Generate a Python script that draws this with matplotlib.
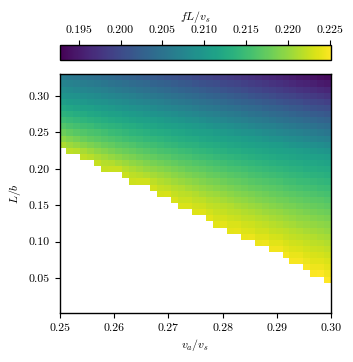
import numpy as np
import matplotlib
matplotlib.use("Agg")
import matplotlib.pyplot as plt
from matplotlib.ticker import FormatStrFormatter

plt.rcParams.update({
    "font.family": "serif",
    "font.serif": ["cmr10"],
    "mathtext.fontset": "cm",
    "axes.formatter.use_mathtext": True,
    "font.size": 8.5,
})

# grid extents (va/vs across, L/b up)
va_vs_range = [0.25, 0.30]
Lb_range = [0.0015, 0.3298]
n_cols = 39
n_rows = 39

# fL/vs = 0.19 + code * 1e-4 ; each list is one va/vs column, from its lowest
# valid L/b cell upward to the top row
fL_offset = 0.19
fL_scale = 1e-4
fL_cols_e4 = [
    [312,295,279,264,250,236,223,209,197,185,174,162],
    [319,305,289,273,259,246,233,219,206,194,182,171,159],
    [317,299,284,268,255,242,229,216,203,191,179,167,156],
    [321,309,293,278,264,251,239,226,213,200,188,176,164,152],
    [317,303,288,273,260,248,235,222,210,197,185,173,161,149],
    [323,311,297,283,269,257,244,232,219,207,194,182,170,158,146],
    [324,316,306,292,278,265,253,240,228,216,204,191,179,167,154,142],
    [325,314,300,287,274,261,249,237,225,213,201,188,176,164,151,139],
    [325,308,295,282,269,258,246,234,222,210,198,185,173,160,148,136],
    [326,316,303,291,278,266,254,242,231,219,207,195,182,170,157,145,132],
    [327,319,311,298,286,274,262,250,239,228,216,204,192,179,167,154,141,129],
    [328,317,306,294,282,270,258,247,236,224,213,201,189,176,163,151,138,125],
    [329,313,301,289,278,266,255,244,233,221,210,198,186,173,160,147,135,122],
    [330,319,308,297,285,274,263,252,241,230,219,208,195,182,170,157,144,131,119],
    [331,323,315,304,293,281,270,259,248,238,227,216,205,192,179,167,154,141,128,115],
    [332,321,311,300,289,278,267,256,245,235,224,213,202,189,176,163,151,138,125,112],
    [332,324,316,306,295,285,274,263,253,242,232,221,211,199,186,173,160,147,134,121,109],
    [333,326,320,313,302,292,281,270,260,250,239,229,219,208,196,183,170,157,144,131,118,105],
    [334,326,318,308,298,288,277,267,257,247,236,226,216,206,193,180,167,154,141,128,115,102],
    [335,328,321,314,304,294,284,274,264,254,244,234,224,213,203,190,177,164,151,138,125,112,99],
    [336,327,319,310,300,290,281,271,261,251,241,231,221,211,200,186,173,160,147,134,121,108,95],
    [337,330,322,315,306,297,287,277,267,258,248,238,228,218,209,196,183,170,157,144,131,118,105,92],
    [338,331,325,319,312,303,293,284,274,264,255,245,235,226,216,206,193,180,167,154,141,128,115,102,88],
    [339,331,324,317,308,299,290,280,271,261,252,242,233,223,214,203,190,177,164,151,138,125,111,98,85],
    [339,333,327,320,314,305,296,286,277,268,258,249,240,230,221,211,200,187,174,161,148,134,121,108,95,82],
    [340,333,325,318,310,301,292,283,274,265,256,246,237,228,218,209,197,184,171,158,144,131,118,105,92,78],
    [341,335,328,321,315,307,298,289,280,271,262,253,244,234,225,216,207,194,181,167,154,141,128,115,101,88,75],
    [342,334,327,319,312,303,294,286,277,268,259,250,241,232,223,214,204,191,178,164,151,138,125,111,98,85,72],
    [343,336,329,323,316,308,300,291,283,274,265,256,247,238,229,220,211,201,187,174,161,148,135,121,108,95,82,68],
    [344,336,329,321,313,305,297,288,280,271,263,254,245,236,227,218,209,198,184,171,158,145,131,118,105,91,78,65],
    [345,338,331,324,317,310,302,293,285,277,269,260,251,242,233,225,216,207,194,181,168,155,141,128,115,101,88,75,62],
    [345,338,330,322,315,307,299,290,282,274,266,257,248,240,231,222,214,205,191,178,165,151,138,125,111,98,85,72,58],
    [346,339,332,325,319,311,303,295,287,280,272,263,254,246,237,229,220,212,201,188,175,161,148,135,121,108,95,81,68,55],
    [347,341,335,328,322,316,308,300,293,285,277,269,260,252,243,235,226,218,210,198,185,172,158,145,132,118,105,92,78,65,52],
    [348,341,334,327,320,313,305,297,290,282,274,266,258,249,241,233,224,216,208,195,182,168,155,142,128,115,102,88,75,61,48],
    [349,343,336,330,323,317,310,302,295,287,279,272,264,255,247,239,230,222,214,205,192,179,165,152,138,125,112,98,85,72,58,45],
    [350,344,338,332,326,320,314,307,299,292,284,277,269,261,253,245,236,228,220,212,202,189,175,162,149,135,122,108,95,82,68,55,41],
    [351,344,338,331,325,318,311,304,297,289,282,274,267,259,250,242,234,226,218,210,199,186,172,159,145,132,119,105,92,78,65,51,38],
    [352,345,339,333,327,321,315,308,301,294,286,279,272,264,256,248,240,232,224,216,208,196,182,169,155,142,129,115,102,88,75,62,48,35],
]

color_min, color_max = 0.1927, 0.2252
cbar_ticks = [0.195, 0.200, 0.205, 0.210, 0.215, 0.220, 0.225]
x_ticks = [0.25, 0.26, 0.27, 0.28, 0.29, 0.30]
y_ticks = [0.05, 0.10, 0.15, 0.20, 0.25, 0.30]

# build the field
Z = np.full((n_rows, n_cols), np.nan)
for j, col in enumerate(fL_cols_e4):
    start = n_rows - len(col)
    Z[start:, j] = fL_offset + np.array(col) * fL_scale
x_edges = np.linspace(va_vs_range[0], va_vs_range[1], n_cols + 1)
y_edges = np.linspace(Lb_range[0], Lb_range[1], n_rows + 1)

fig = plt.figure(figsize=(3.53, 3.62), dpi=100)
ax = fig.add_axes([59.5 / 353, 1 - 313.3 / 362, 271.8 / 353, 239.0 / 362])
mesh = ax.pcolormesh(x_edges, y_edges, np.ma.masked_invalid(Z), cmap="viridis",
                     vmin=color_min, vmax=color_max, shading="flat")
ax.set_xlim(va_vs_range)
ax.set_ylim(Lb_range)
ax.set_xticks(x_ticks)
ax.set_yticks(y_ticks)
ax.xaxis.set_major_formatter(FormatStrFormatter("%.2f"))
ax.yaxis.set_major_formatter(FormatStrFormatter("%.2f"))
ax.set_xlabel(r"$v_a/v_s$", labelpad=3)
ax.set_ylabel(r"$L/b$", labelpad=4)
ax.tick_params(direction="out", length=3.5, width=0.8)
for s in ax.spines.values():
    s.set_linewidth(1.0)

cax = fig.add_axes([59.5 / 353, 1 - 60.0 / 362, 271.8 / 353, 15.0 / 362])
cb = fig.colorbar(mesh, cax=cax, orientation="horizontal", ticks=cbar_ticks)
cax.xaxis.set_ticks_position("top")
cax.xaxis.set_label_position("top")
cax.xaxis.set_major_formatter(FormatStrFormatter("%.3f"))
cb.set_label(r"$fL/v_s$", labelpad=4)
cax.tick_params(direction="out", length=3.5, width=0.8)
cb.outline.set_linewidth(1.0)

fig.savefig("out.png", dpi=100)
